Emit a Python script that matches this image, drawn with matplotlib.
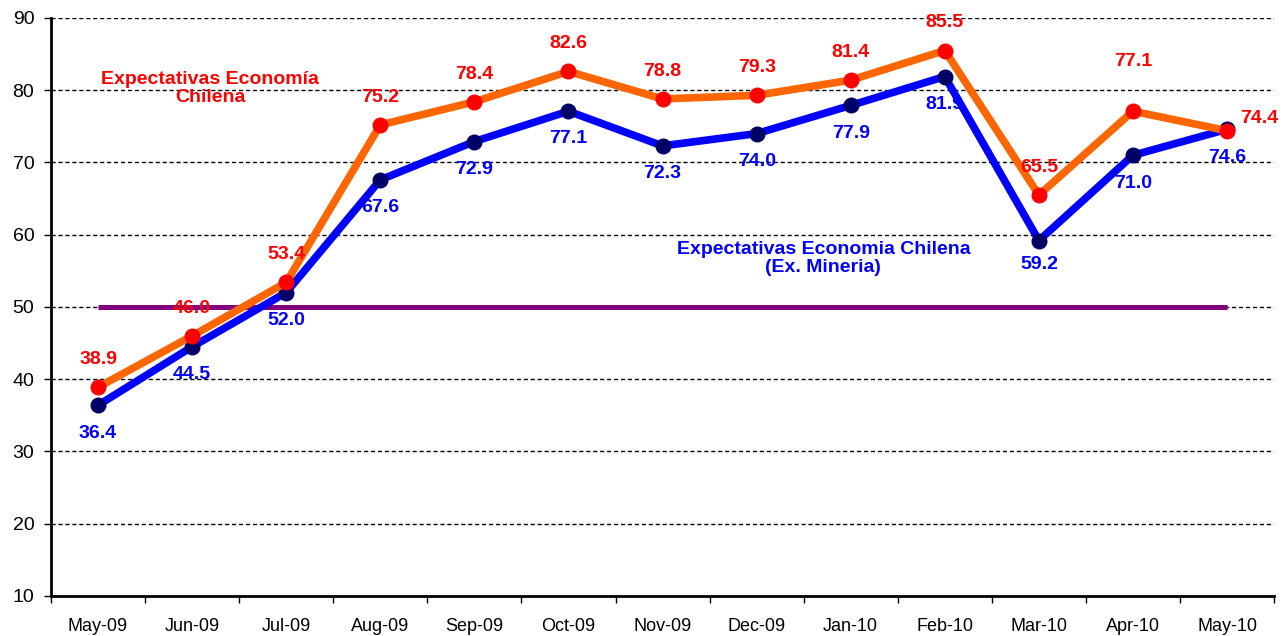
import matplotlib
matplotlib.use('Agg')
import matplotlib.pyplot as plt
import numpy as np

months = ['May-09', 'Jun-09', 'Jul-09', 'Aug-09', 'Sep-09', 'Oct-09', 'Nov-09',
          'Dec-09', 'Jan-10', 'Feb-10', 'Mar-10', 'Apr-10', 'May-10']
economia = [38.9, 46.0, 53.4, 75.2, 78.4, 82.6, 78.8, 79.3, 81.4, 85.5, 65.5, 77.1, 74.4]
ex_mineria = [36.4, 44.5, 52.0, 67.6, 72.9, 77.1, 72.3, 74.0, 77.9, 81.9, 59.2, 71.0, 74.6]
neutral = [50] * len(months)

plt.rcParams['font.family'] = ['Liberation Sans', 'DejaVu Sans']

fig = plt.figure(figsize=(12.88, 6.36), dpi=100)
ax = fig.add_axes([0.0396, 0.0629, 0.9496, 0.9088])

x = np.arange(len(months))

# grid lines
for yv in range(20, 91, 10):
    ax.axhline(yv, color='black', linestyle=(0, (3, 2)), linewidth=1.0, zorder=1)

ax.plot(x, neutral, color='#800080', linewidth=3.6, solid_capstyle='butt', zorder=2)
ax.plot(x, ex_mineria, color='#0000ff', linewidth=5.5, marker='o', markersize=10.5,
        markerfacecolor='#000066', markeredgecolor='#000066', zorder=3)
ax.plot(x, economia, color='#ff6600', linewidth=5.5, marker='o', markersize=10.5,
        markerfacecolor='#ff0000', markeredgecolor='#ff0000', zorder=4)

# data labels (offsets in points)
red_off = [(0, 20)] * len(months)
red_off[11] = (0, 36)
red_off[12] = (23, 9)
blue_off = [(0, -20)] * len(months)
blue_off[10] = (0, -17)

for i in range(len(months)):
    ax.annotate(f'{economia[i]:.1f}', (x[i], economia[i]), xytext=red_off[i],
                textcoords='offset points', ha='center', va='center',
                color='#ff0000', fontsize=14, fontweight='bold', zorder=5)
    ax.annotate(f'{ex_mineria[i]:.1f}', (x[i], ex_mineria[i]), xytext=blue_off[i],
                textcoords='offset points', ha='center', va='center',
                color='#0000ff', fontsize=14, fontweight='bold', zorder=2.5)

ax.text(1.19, 80.25, 'Expectativas Economía\nChilena', color='#ff0000', fontsize=14,
        fontweight='bold', ha='center', va='center', linespacing=1.1)
ax.text(7.71, 56.7, 'Expectativas Economia Chilena\n(Ex. Mineria)', color='#0000ff',
        fontsize=14, fontweight='bold', ha='center', va='center', linespacing=1.1)

ax.set_xlim(-0.5, len(months) - 0.5)
ax.set_ylim(10, 90)
ax.set_yticks(range(10, 91, 10))
ax.tick_params(axis='y', labelsize=14, length=5, width=1, direction='out', pad=7)
ax.set_xticks(x)
ax.set_xticklabels(months, fontsize=13)
ax.set_xticks(np.arange(-0.5, len(months)), minor=True)
ax.tick_params(axis='x', which='major', length=0, pad=16)
ax.tick_params(axis='x', which='minor', length=5, width=1, direction='out')

ax.spines['top'].set_visible(False)
ax.spines['right'].set_visible(False)
ax.spines['left'].set_linewidth(2)
ax.spines['bottom'].set_linewidth(2)

fig.savefig('out.png', dpi=100)
